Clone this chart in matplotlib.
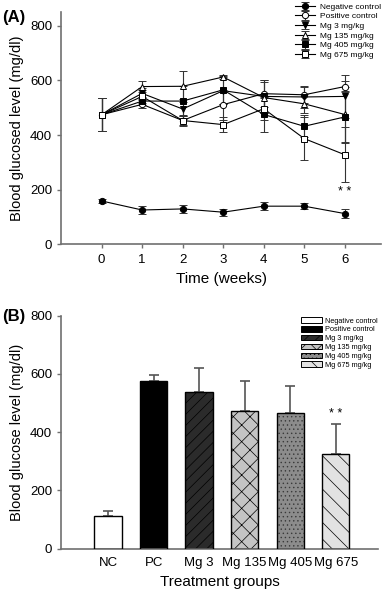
import matplotlib
matplotlib.use("Agg")
import matplotlib.pyplot as plt
from matplotlib.patches import Patch

# Panel A data: blood glucose over time (mean, sd)
weeks = [0, 1, 2, 3, 4, 5, 6]
series_names = ["Negative control", "Positive control", "Mg 3 mg/kg",
                "Mg 135 mg/kg", "Mg 405 mg/kg", "Mg 675 mg/kg"]
nc_mean = [159, 126, 130, 118, 140, 140, 113]
nc_sd = [8, 15, 15, 13, 15, 12, 16]
pc_mean = [474, 512, 453, 511, 551, 547, 577]
pc_sd = [60, 15, 20, 55, 50, 30, 20]
mg3_mean = [474, 552, 495, 562, 541, 539, 541]
mg3_sd = [60, 20, 35, 50, 60, 40, 78]
mg135_mean = [474, 577, 578, 612, 537, 514, 475]
mg135_sd = [60, 20, 57, 8, 55, 35, 100]
mg405_mean = [474, 524, 524, 565, 475, 432, 466]
mg405_sd = [60, 15, 55, 50, 65, 40, 95]
mg675_mean = [474, 541, 453, 438, 496, 387, 328]
mg675_sd = [60, 25, 15, 28, 40, 80, 100]

# Panel B data: week 6 values
groups = ["NC", "PC", "Mg 3", "Mg 135", "Mg 405", "Mg 675"]
bar_mean = [112, 574, 538, 473, 466, 326]
bar_sd = [17, 22, 81, 103, 94, 103]

NARROW = ["Liberation Sans Narrow", "Liberation Sans", "DejaVu Sans"]
REGULAR = ["Liberation Sans", "DejaVu Sans"]
plt.rcParams["font.family"] = NARROW
plt.rcParams["hatch.linewidth"] = 0.5
AXIS_GRAY = "#707070"

fig = plt.figure(figsize=(3.87, 5.92), dpi=100)


def style_axes(ax):
    for side in ["top", "right"]:
        ax.spines[side].set_visible(False)
    for side in ["left", "bottom"]:
        ax.spines[side].set_color(AXIS_GRAY)
        ax.spines[side].set_linewidth(1.2)
    ax.tick_params(axis="both", colors=AXIS_GRAY, labelcolor="black",
                   labelsize=9.5, length=3, width=1)


# ---------------- Panel A ----------------
ax1 = fig.add_axes([0.158, 0.587, 0.827, 0.393])
style_axes(ax1)

line_styles = [
    (nc_mean, nc_sd, "o", "black"),
    (pc_mean, pc_sd, "o", "white"),
    (mg3_mean, mg3_sd, "v", "black"),
    (mg135_mean, mg135_sd, "^", "white"),
    (mg405_mean, mg405_sd, "s", "black"),
    (mg675_mean, mg675_sd, "s", "white"),
]
for name, (mean, sd, marker, face) in zip(series_names, line_styles):
    ax1.errorbar(weeks, mean, yerr=sd, color="black", ecolor="#333333",
                 elinewidth=0.8, capsize=3, capthick=0.8, linewidth=0.8,
                 marker=marker, markersize=4.5, markerfacecolor=face,
                 markeredgecolor="black", markeredgewidth=0.7, label=name)

ax1.text(6, 192, "* *", ha="center", va="center", fontsize=9)
ax1.set_xlim(-1, 6.9)
ax1.set_ylim(0, 850)
ax1.set_xticks(weeks)
ax1.set_yticks([0, 200, 400, 600, 800])
ax1.set_xlabel("Time (weeks)", fontsize=11, labelpad=5)
ax1.set_ylabel("Blood glucosed level (mg/dl)", fontsize=10.5, family=REGULAR)
fig.legend(*ax1.get_legend_handles_labels(), loc="upper right",
           bbox_to_anchor=(1.0, 1.005), frameon=False, fontsize=6,
           handlelength=2.4, labelspacing=0.22, borderpad=0.2,
           handletextpad=0.6)
fig.text(0.005, 0.97, "(A)", fontsize=12, fontweight="bold", va="center",
         family=REGULAR)

# ---------------- Panel B ----------------
ax2 = fig.add_axes([0.158, 0.073, 0.819, 0.394])
style_axes(ax2)

bar_faces = ["white", "black", "#2b2b2b", "#c4c4c4", "#8c8c8c", "#e2e2e2"]
bar_hatches = [None, None, "///", "xx", "....", "\\\\"]
hatch_colors = ["black", "black", "black", "black", "#3a3a3a", "black"]
xpos = list(range(len(groups)))

ax2.errorbar(xpos, bar_mean, yerr=[[0] * len(bar_sd), bar_sd], fmt="none",
             ecolor="#555555", elinewidth=1.2, capsize=3.5, capthick=1.2,
             zorder=1)
handles = []
for x, h, face, hatch, hcol, name in zip(xpos, bar_mean, bar_faces,
                                         bar_hatches, hatch_colors, series_names):
    ax2.bar(x, h, width=0.6, color=face, edgecolor=hcol, hatch=hatch,
            linewidth=0, zorder=2)
    ax2.bar(x, h, width=0.6, fill=False, edgecolor="black", linewidth=1,
            zorder=3)
    handles.append(Patch(facecolor=face, edgecolor="black", hatch=hatch,
                         linewidth=0.7, label=name))

ax2.text(5, 462, "* *", ha="center", va="center", fontsize=9)
ax2.set_xlim(-1.03, 5.93)
ax2.set_ylim(0, 800)
ax2.set_xticks(xpos)
ax2.set_xticklabels(groups)
ax2.tick_params(axis="x", length=0, pad=6)
ax2.set_yticks([0, 200, 400, 600, 800])
ax2.set_xlabel("Treatment groups", fontsize=11, labelpad=4)
ax2.set_ylabel("Blood glucose level (mg/dl)", fontsize=10.5, family=REGULAR)
fig.legend(handles=handles, loc="upper left", bbox_to_anchor=(0.765, 0.473),
           frameon=False, fontsize=5.3, handlelength=2.8, handleheight=0.8,
           labelspacing=0.2, borderpad=0.2, handletextpad=0.5)
fig.text(0.005, 0.465, "(B)", fontsize=12, fontweight="bold", va="center",
         family=REGULAR)

fig.savefig("out.png", dpi=100)
